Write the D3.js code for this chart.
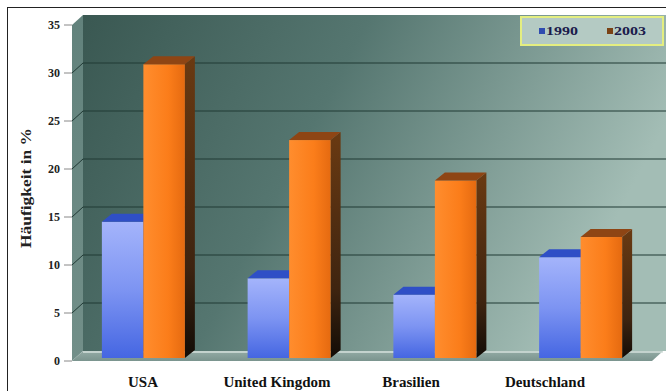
<!DOCTYPE html>
<html>
<head>
<meta charset="utf-8">
<script src="https://cdn.jsdelivr.net/npm/d3@7"></script>
<style>
  body { margin: 0; background: #fff; }
  text { font-family: "Liberation Serif", "DejaVu Serif", serif; font-weight: bold; }
</style>
</head>
<body>
<script>
var width = 666, height = 391;

// data
var categories = ['USA', 'United Kingdom', 'Brasilien', 'Deutschland'];
var series = ['1990', '2003'];
var values1990 = [14.2, 8.3, 6.6, 10.5];
var values2003 = [30.6, 22.7, 18.5, 12.6];
var yTicks = [0, 5, 10, 15, 20, 25, 30, 35];
var yTitle = 'Häufigkeit in %';

var svg = d3.select('body').append('svg')
    .attr('xmlns', 'http://www.w3.org/2000/svg')
    .attr('width', width)
    .attr('height', height);

var defs = svg.append('defs');
function grad(id, stops, x2, y2) {
  var g = defs.append('linearGradient').attr('id', id)
    .attr('x1', 0).attr('y1', 0).attr('x2', x2).attr('y2', y2);
  stops.forEach(function(s) {
    g.append('stop').attr('offset', s[0]).attr('stop-color', s[1]);
  });
}
grad('wall', [[0, '#3a5852'], [0.45, '#557670'], [1, '#a3bdb5']], 1, 0.3);
grad('side', [[0, '#62827c'], [1, '#728f89']], 0, 1);
grad('floor', [[0, '#93aba5'], [1, '#7a948e']], 0, 1);
grad('blueFront', [[0, '#a4b4fb'], [0.5, '#7d94f2'], [1, '#4566e2']], 0, 1);
grad('orangeFront', [[0, '#ff8d2e'], [0.6, '#fb7d1a'], [1, '#e56a10']], 1, 0);
grad('orangeSide', [[0, '#6a3a12'], [0.7, '#3e2410'], [1, '#120c06']], 0, 1);
grad('blueSide', [[0, '#2a44a8'], [1, '#101c50']], 0, 1);

// back plane scale; front plane is shifted by the depth offsets
var y = d3.scaleLinear().domain([0, 35]).range([351, 15]);
var depthX = 11, depthY = 10;     // wall depth
var capX = 10, capY = -8;         // bar depth
var barShift = 7;                 // bar front face below back plane

var x = d3.scaleBand().domain(categories).range([70, 653]);
var xs = d3.scaleBand().domain(series).range([-41, 42]);
var xLabel = d3.scaleBand().domain(categories).range([76, 612]);

var backL = 83, backR = 670;

// back wall
svg.append('rect')
  .attr('x', backL).attr('y', y(35))
  .attr('width', backR - backL).attr('height', y(0) - y(35))
  .attr('fill', 'url(#wall)');

// left wall
svg.append('path')
  .attr('d', 'M' + backL + ',' + y(35) + 'L' + (backL - depthX) + ',' + (y(35) + depthY) +
    'L' + (backL - depthX) + ',' + (y(0) + depthY) + 'L' + backL + ',' + y(0) + 'Z')
  .attr('fill', 'url(#side)');

// floor
svg.append('path')
  .attr('d', 'M' + backL + ',' + y(0) + 'L' + 663 + ',' + y(0) +
    'L' + (663 - depthX) + ',' + (y(0) + depthY) + 'L' + (backL - depthX) + ',' + (y(0) + depthY) + 'Z')
  .attr('fill', 'url(#floor)');
svg.append('line')
  .attr('x1', backL).attr('x2', 663).attr('y1', y(0) + 1).attr('y2', y(0) + 1)
  .attr('stroke', '#d4e0dc').attr('stroke-width', 1.5);

// gridlines on back and left wall
var grid = yTicks.filter(function(d) { return d > 0 && d < 35; });
svg.selectAll('.grid').data(grid).enter().append('line')
  .attr('x1', backL).attr('x2', backR)
  .attr('y1', function(d) { return y(d); }).attr('y2', function(d) { return y(d); })
  .attr('stroke', '#213a35').attr('stroke-width', 1.2);
svg.selectAll('.gridside').data(grid).enter().append('line')
  .attr('x1', backL - depthX).attr('x2', backL)
  .attr('y1', function(d) { return y(d) + depthY; }).attr('y2', function(d) { return y(d); })
  .attr('stroke', '#213a35').attr('stroke-width', 1);

// y axis ticks and labels
svg.selectAll('.tick').data(yTicks).enter().append('line')
  .attr('x1', 64).attr('x2', backL - depthX)
  .attr('y1', function(d) { return y(d) + depthY; }).attr('y2', function(d) { return y(d) + depthY; })
  .attr('stroke', '#888').attr('stroke-width', 1);
svg.selectAll('.ylab').data(yTicks).enter().append('text')
  .attr('x', 60).attr('y', function(d) { return y(d) + depthY + 4; })
  .attr('text-anchor', 'end').attr('font-size', 12).attr('fill', '#222')
  .text(function(d) { return d; });

svg.append('text')
  .attr('transform', 'translate(31,188) rotate(-90)')
  .attr('text-anchor', 'middle').attr('font-size', 15).attr('fill', '#222')
  .attr('textLength', 120).attr('lengthAdjust', 'spacingAndGlyphs')
  .text(yTitle);

// bars
var rows = [];
categories.forEach(function(c, i) {
  rows.push({ cat: c, s: '1990', v: values1990[i] });
  rows.push({ cat: c, s: '2003', v: values2003[i] });
});
var g = svg.append('g');
var bar = g.selectAll('.bar').data(rows).enter().append('g');
bar.each(function(d) {
  var el = d3.select(this);
  var x0 = x(d.cat) + x.bandwidth() / 2 + xs(d.s);
  var w = xs.bandwidth();
  var yt = y(d.v) + barShift, yb = y(0) + barShift;
  var blue = d.s === '1990';
  el.append('path')
    .attr('d', 'M' + (x0 + w) + ',' + yt + 'L' + (x0 + w + capX) + ',' + (yt + capY) +
      'L' + (x0 + w + capX) + ',' + (yb + capY) + 'L' + (x0 + w) + ',' + yb + 'Z')
    .attr('fill', blue ? 'url(#blueSide)' : 'url(#orangeSide)');
  el.append('rect')
    .attr('x', x0).attr('y', yt).attr('width', w).attr('height', yb - yt)
    .attr('fill', blue ? 'url(#blueFront)' : 'url(#orangeFront)');
  el.append('path')
    .attr('d', 'M' + x0 + ',' + yt + 'L' + (x0 + capX) + ',' + (yt + capY) +
      'L' + (x0 + w + capX) + ',' + (yt + capY) + 'L' + (x0 + w) + ',' + yt + 'Z')
    .attr('fill', blue ? '#2f4fc6' : '#8e4514');
});

// category labels
svg.selectAll('.xlab').data(categories).enter().append('text')
  .attr('x', function(d) { return xLabel(d) + xLabel.bandwidth() / 2; })
  .attr('y', 387)
  .attr('text-anchor', 'middle').attr('font-size', 15).attr('fill', '#111')
  .text(function(d) { return d; });

// legend
var leg = svg.append('g');
leg.append('rect')
  .attr('x', 521).attr('y', 17).attr('width', 142).attr('height', 28)
  .attr('fill', '#b4cac3').attr('stroke', '#e4ee80').attr('stroke-width', 2);
var legX = d3.scalePoint().domain(series).range([539, 607]);
var legColor = { '1990': '#2f4cb0', '2003': '#7a4214' };
leg.selectAll('.lsw').data(series).enter().append('rect')
  .attr('x', function(d) { return legX(d); }).attr('y', 28)
  .attr('width', 6).attr('height', 6)
  .attr('fill', function(d) { return legColor[d]; });
leg.selectAll('.ltx').data(series).enter().append('text')
  .attr('x', function(d) { return legX(d) + 7; }).attr('y', 35)
  .attr('font-size', 12).attr('fill', '#1c1c4c')
  .attr('textLength', 32).attr('lengthAdjust', 'spacingAndGlyphs')
  .text(function(d) { return d; });

// outer frame
svg.append('rect')
  .attr('x', 7.5).attr('y', 7.5).attr('width', 700).attr('height', 420)
  .attr('fill', 'none').attr('stroke', '#222').attr('stroke-width', 1);
</script>
</body>
</html>
